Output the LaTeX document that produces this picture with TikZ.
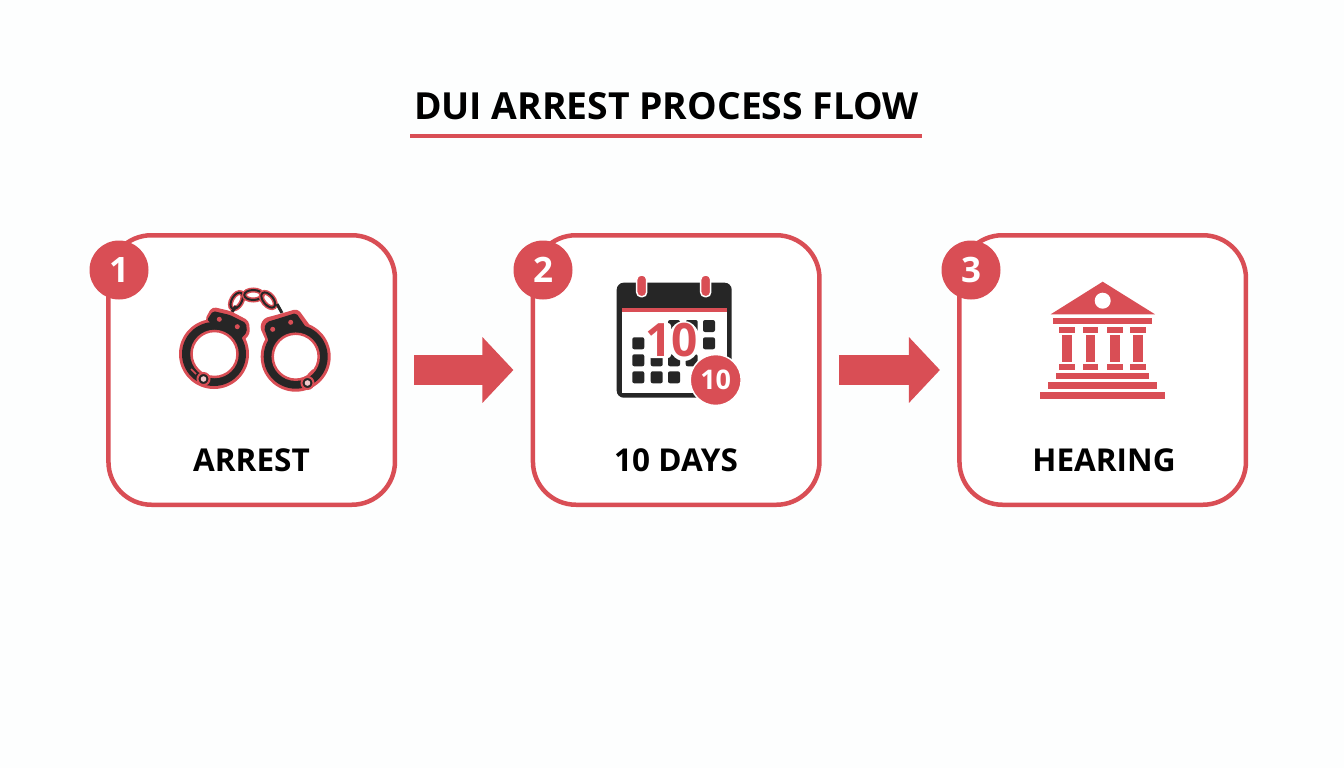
\documentclass[tikz,border=0pt]{standalone}
\usepackage{xcolor}
\usepackage{fontspec}
\setmainfont{Open Sans}
\usepackage{tikz}
\usetikzlibrary{arrows.meta, positioning}
\definecolor{flowred}{HTML}{D94E55}
\definecolor{inkblack}{HTML}{262626}
\definecolor{paper}{HTML}{FDFEFE}
\tikzset{
    stepbox/.style={rectangle, rounded corners=43pt, draw=flowred, line width=4.5pt, fill=white, minimum width=286.5pt, minimum height=269.5pt, outer sep=0pt},
    badge/.style={circle, fill=flowred, text=white, minimum size=59pt, inner sep=0pt, font=\bfseries\fontsize{35}{38}\selectfont},
    steplabel/.style={font=\bfseries\fontsize{31.5}{34}\selectfont, text=black, inner sep=0pt},
    arrow/.style={-{Triangle[length=31pt, width=64pt]}, line width=30pt, draw=flowred, shorten <=19.5pt, shorten >=19.5pt},
    redbar/.style={fill=flowred, draw=none},
    inkbar/.style={fill=inkblack, rounded corners=2pt}
}
\begin{document}
\begin{tikzpicture}[x=1pt, y=-1pt]
    \useasboundingbox[fill=paper] (0,0) rectangle (1344,768);
    % title
    \node (title) at (666.5,106) [font=\bfseries\fontsize{37.3}{40}\selectfont, inner sep=0pt] {DUI ARREST PROCESS FLOW};
    \fill[flowred] (410,134) rectangle (922,138);

    % boxes
    \node (arrest) at (251.7,370) [stepbox] {};
    \node (days) [stepbox, right=138pt of arrest] {};
    \node (hearing) [stepbox, right=140pt of days] {};

    \node (arrestlabel) at (251.5,460) [steplabel] {ARREST};
    \node (dayslabel) at (676,460) [steplabel] {10 DAYS};
    \node (hearinglabel) at (1104,460) [steplabel] {HEARING};

    \node (one) at (119,270) [badge] {1};
    \node (two) at (543,270) [badge] {2};
    \node (three) at (971,270) [badge] {3};

    \draw[arrow] (arrest) -- (days);
    \draw[arrow] (days) -- (hearing);

    % handcuffs
    \foreach \x/\y/\a in {236.7/300.7/60, 253.3/295/0, 268.3/300/-50} {
        \draw[flowred, line width=5pt, rotate around={\a:(\x,\y)}] (\x,\y) ellipse (9 and 5);
        \draw[inkblack, line width=2pt, rotate around={\a:(\x,\y)}] (\x,\y) ellipse (9 and 5);
    }
    \draw[inkblack, line width=3pt] (232,312) -- (236,306) (277,304) -- (282,313);
    \draw[flowred, line width=4pt, fill=flowred, line join=round, rounded corners=3pt] (214,354) circle (33)
        (207,320) -- (213,309) -- (230,313) -- (247,322) -- (248,333) -- (240,342) -- cycle;
    \draw[flowred, line width=4pt, fill=flowred, line join=round, rounded corners=3pt] (295.7,356.7) circle (33)
        (262,327) -- (265,320) -- (280,316) -- (297,311) -- (305,322) -- (313,333) -- (270,345) -- cycle;
    \fill[inkblack, rounded corners=2pt] (214,354) circle (32)
        (207,320) -- (213,311) -- (230,315) -- (246,323) -- (247,332) -- (238,342) -- cycle;
    \fill[inkblack, rounded corners=2pt] (295.7,356.7) circle (32)
        (264,328) -- (267,322) -- (280,318) -- (296,313) -- (303,323) -- (311,335) -- (270,345) -- cycle;
    \draw[flowred, line width=2.5pt, fill=white] (214.5,354) circle (23);
    \draw[flowred, line width=2.5pt, fill=white] (295.7,356.7) circle (23);
    \foreach \x/\y in {219.3/319.3, 237.3/326.7, 272.7/329.3, 290.7/322.3}
        \fill[flowred] (\x,\y) circle (2.5);
    \draw[flowred, line width=1.5pt] (196,374) -- (191,369) (308,375) -- (313,370);
    \foreach \x/\y in {203.5/379, 307.5/383} {
        \draw[flowred, line width=2pt, fill=inkblack] (\x,\y) circle (6);
        \fill[paper!70!flowred] (\x,\y) circle (2.8);
    }

    % calendar
    \fill[inkblack, rounded corners=7pt] (616.7,282.7) rectangle (731.7,397.7);
    \fill[white] (621.7,311) rectangle (726.7,393.3);
    \fill[flowred] (621.7,307.7) rectangle (726.7,311.7);
    \foreach \x in {641.7, 705.7}
        \draw[white, line width=1.5pt, fill=flowred, rounded corners=4.5pt] (\x-5,275) rectangle (\x+5,296.7);
    \foreach \x/\y in {674/326, 691.7/326, 709/326,
                       638.3/343.3, 656.7/343.3, 674/343.3, 691.7/343.3, 709/343.3,
                       638.3/360.3, 656.7/360.3, 674/360.3, 691.7/360.3,
                       638.3/377.3, 656.7/377.3, 674/377.3}
        \fill[inkbar] (\x-6,\y-6) rectangle (\x+6,\y+6);
    \fill[white, rounded corners=3pt] (648,323) rectangle (671,358);
    \fill[white] (684,341) ellipse (16 and 20);
    \node (bigten) at (671.7,340) [font=\bfseries\fontsize{46}{48}\selectfont, text=flowred, inner sep=0pt] {10};
    \node (smallten) at (715.7,380) [circle, fill=flowred, draw=white, line width=1.5pt, minimum size=51pt, inner sep=0pt, text=white, font=\bfseries\fontsize{27}{30}\selectfont] {10};

    % courthouse
    \fill[flowred] (1102.7,281.7) -- (1155,314.3) -- (1050.7,314.3) -- cycle;
    \fill[white] (1102.7,300.7) circle (8);
    \fill[redbar] (1053.3,317.7) rectangle (1152,324.3);
    \foreach \x/\w in {1059.3/1075, 1082.7/1098.3, 1107/1122.7, 1130.3/1146} {
        \fill[redbar] (\x,327.3) rectangle (\w,332.7);
        \fill[redbar] (\x,364.3) rectangle (\w,369.7);
        \fill[redbar] (\x+3,335.3) rectangle (\w-3,362);
    }
    \fill[redbar] (1056,372.7) rectangle (1149.3,379.3);
    \fill[redbar] (1047.7,382.3) rectangle (1157.3,389);
    \fill[redbar] (1040,392) rectangle (1164.7,398.7);
\end{tikzpicture}
\end{document}
